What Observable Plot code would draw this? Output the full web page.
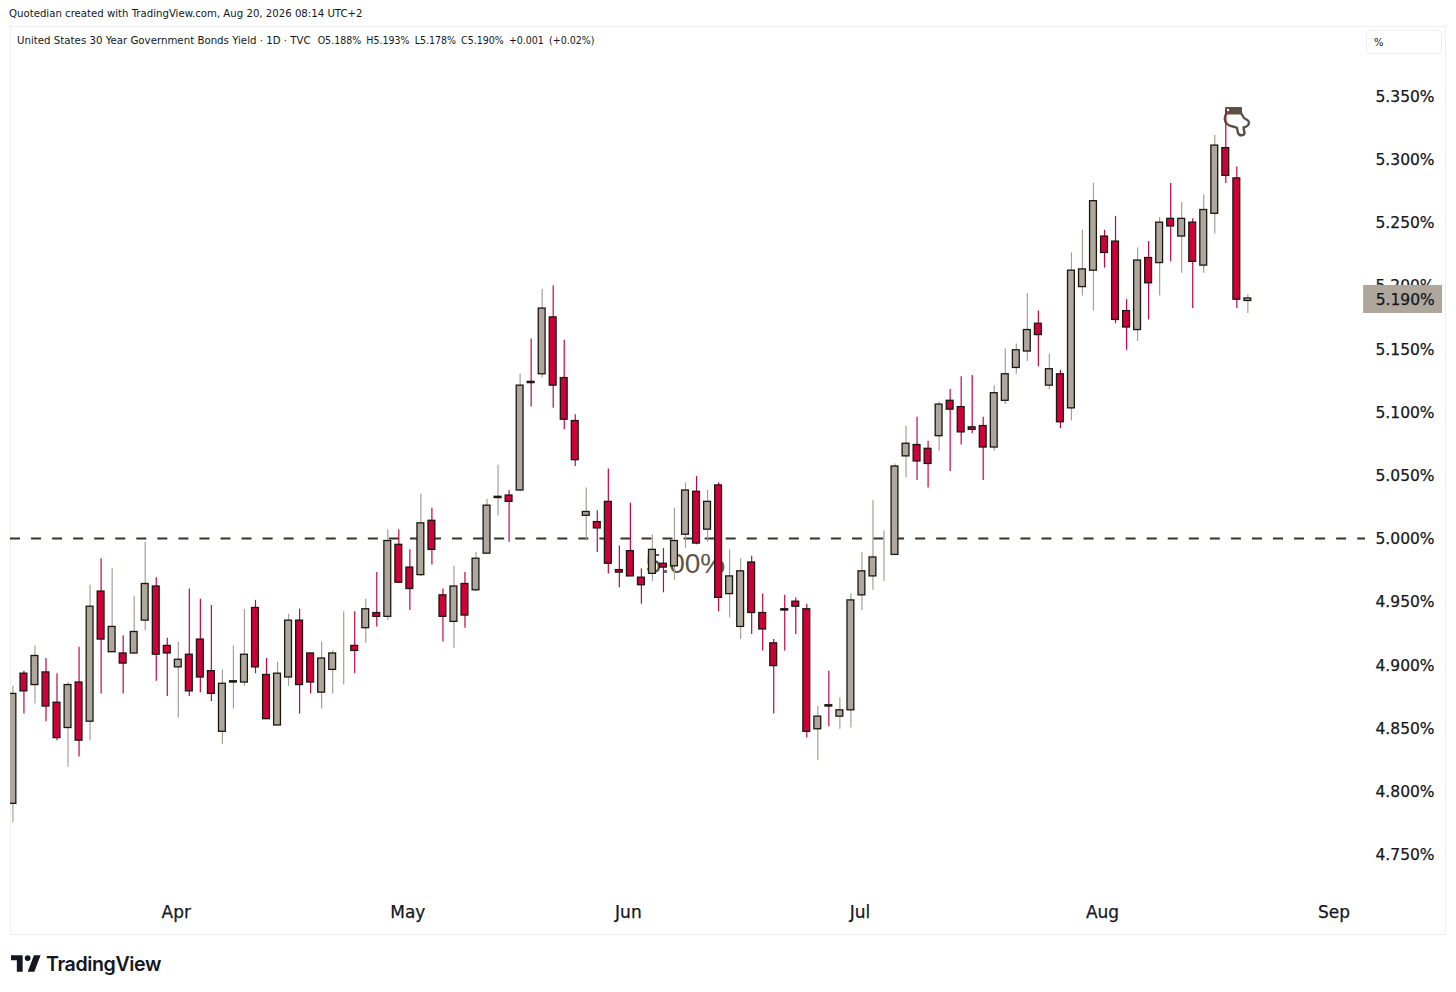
<!DOCTYPE html>
<html><head><meta charset="utf-8">
<script src="https://cdn.jsdelivr.net/npm/d3@7"></script>
<script src="https://cdn.jsdelivr.net/npm/@observablehq/plot@0.6"></script>
<style>
html,body{margin:0;padding:0;background:#fff;width:1456px;height:992px;overflow:hidden}
#wrap{position:relative;width:1456px;height:992px}
#chart{position:absolute;left:0;top:0}
.abs{position:absolute;white-space:pre;color:#131722}
#credit{left:9px;top:7px;font:11.3px "DejaVu Sans Condensed","DejaVu Sans",sans-serif}
#legend{left:17px;top:32.5px;font:11.36px "DejaVu Sans Condensed","DejaVu Sans",sans-serif}
#legend span{font-size:10.5px;margin-left:5.2px}
#legend span:first-child{margin-left:7px}
#pane{left:10px;top:26px;width:1436px;height:909px;border:1px solid #eeeeee;box-sizing:border-box}
#unit{left:1366px;top:30px;width:76px;height:24px;border:1px solid #eeeeee;border-radius:4px;box-sizing:border-box;font:10px "DejaVu Sans",sans-serif;padding:6px 0 0 7px}
#tv{left:46px;top:952px;font:600 19.6px Inter,sans-serif;letter-spacing:-0.4px}
#chart g[aria-label="y-axis tick label"] text,#chart g[aria-label="x-axis tick label"] text{stroke:#131722;stroke-width:.25px}
</style></head><body>
<div id="wrap">
<div class="abs" id="pane"></div>
<div class="abs" id="credit">Quotedian created with TradingView.com, Aug 20, 2026 08:14 UTC+2</div>
<div class="abs" id="legend">United States 30 Year Government Bonds Yield · 1D · TVC<span>O5.188%</span><span>H5.193%</span><span>L5.178%</span><span>C5.190%</span><span>+0.001</span><span>(+0.02%)</span></div>
<div class="abs" id="unit">%</div>
<svg class="abs" style="left:1220px;top:100px" width="35" height="40" viewBox="0 0 35 40" aria-label="pointing hand">
  <path d="M7 13C4 16 4 21 7 24C10 27 14 26 17 28L18 33C19 36 24 36 24.5 33L23.5 27.5C26 27 29 25 29 22.5C29 20 25 19 24 18L21 13" fill="#fff" stroke="#5d5045" stroke-width="2.4" stroke-linejoin="round"/>
  <rect x="5" y="7" width="17" height="7.5" rx="1" fill="#5d5045"/><circle cx="8" cy="10" r="1.2" fill="#fff"/>
</svg>
<div id="chart"></div>
<svg class="abs" style="left:11px;top:955px" width="30" height="17" viewBox="0 0 36 20"><path d="M14 0H0v6h7v14h7V0Z" fill="#131722"/><circle cx="20" cy="3.5" r="3.5" fill="#131722"/><path d="M28 20h-8L27.5 0h8L28 20Z" fill="#131722"/></svg>
<div class="abs" id="tv">TradingView</div>
</div>
<script>
const opens=[4.790,4.893,4.884,4.894,4.870,4.850,4.886,4.855,4.958,4.910,4.909,4.909,4.935,4.962,4.915,4.898,4.908,4.920,4.895,4.847,4.886,4.886,4.945,4.892,4.852,4.890,4.935,4.909,4.878,4.896,4.913,4.915,4.929,4.941,4.938,4.995,4.977,4.971,5.014,4.955,4.934,4.964,4.959,4.988,5.032,5.034,5.038,5.124,5.130,5.175,5.127,5.093,5.018,5.013,5.029,4.975,4.990,4.969,4.972,4.980,4.978,5.003,5.037,5.007,5.042,4.956,4.930,4.981,4.941,4.917,4.944,4.950,4.944,4.849,4.868,4.859,4.864,4.955,4.970,4.986,4.987,5.065,5.074,5.071,5.081,5.109,5.104,5.088,5.089,5.072,5.109,5.135,5.148,5.170,5.121,5.130,5.103,5.199,5.212,5.239,5.235,5.180,5.165,5.222,5.218,5.253,5.239,5.250,5.216,5.257,5.309,5.285,5.188];
const closes=[4.877,4.879,4.907,4.867,4.842,4.884,4.840,4.946,4.920,4.930,4.901,4.926,4.964,4.908,4.909,4.904,4.879,4.890,4.877,4.885,4.887,4.908,4.898,4.857,4.893,4.935,4.884,4.886,4.905,4.909,4.913,4.911,4.944,4.938,4.998,4.965,4.960,5.012,4.991,4.938,4.962,4.939,4.984,5.026,5.033,5.029,5.121,5.123,5.182,5.121,5.094,5.062,5.021,5.008,4.980,4.973,4.970,4.963,4.991,4.977,4.998,5.038,4.996,5.029,4.953,4.970,4.974,4.941,4.928,4.899,4.943,4.946,4.847,4.859,4.867,4.864,4.951,4.974,4.985,4.986,5.057,5.075,5.061,5.059,5.106,5.102,5.084,5.086,5.072,5.115,5.130,5.149,5.165,5.161,5.134,5.092,5.212,5.213,5.267,5.226,5.173,5.167,5.220,5.202,5.250,5.247,5.253,5.219,5.260,5.311,5.287,5.189,5.190];
const highs=[4.883,4.895,4.915,4.905,4.893,4.886,4.914,4.963,4.984,4.976,4.923,4.954,4.997,4.969,4.921,4.918,4.960,4.952,4.947,4.896,4.915,4.944,4.951,4.905,4.902,4.940,4.944,4.909,4.918,4.911,4.942,4.942,4.952,4.973,5.007,5.007,4.991,5.035,5.024,4.960,4.978,4.973,4.989,5.031,5.058,5.038,5.130,5.158,5.197,5.200,5.157,5.098,5.040,5.022,5.055,4.994,5.028,4.976,5.003,4.992,5.024,5.044,5.049,5.038,5.044,4.991,4.984,4.986,4.956,4.920,4.955,4.953,4.948,4.867,4.895,4.874,4.956,4.989,5.030,5.006,5.059,5.089,5.096,5.077,5.108,5.118,5.128,5.129,5.096,5.121,5.150,5.154,5.194,5.180,5.146,5.133,5.226,5.244,5.281,5.244,5.255,5.189,5.230,5.235,5.254,5.281,5.266,5.253,5.272,5.319,5.339,5.294,5.193];
const lows=[4.775,4.861,4.869,4.855,4.840,4.819,4.827,4.840,4.877,4.910,4.877,4.908,4.927,4.887,4.875,4.858,4.875,4.878,4.871,4.837,4.865,4.883,4.893,4.857,4.852,4.883,4.861,4.877,4.865,4.877,4.884,4.893,4.917,4.930,4.935,4.965,4.943,4.970,4.979,4.918,4.913,4.929,4.958,4.988,5.018,4.997,5.037,5.104,5.127,5.103,5.086,5.057,4.998,4.989,4.972,4.961,4.970,4.948,4.966,4.957,4.967,4.992,4.995,4.997,4.942,4.937,4.920,4.924,4.911,4.861,4.911,4.924,4.842,4.824,4.851,4.849,4.850,4.943,4.959,4.966,4.987,5.048,5.046,5.040,5.069,5.053,5.074,5.083,5.046,5.069,5.106,5.130,5.140,5.136,5.118,5.087,5.093,5.192,5.180,5.214,5.170,5.149,5.156,5.173,5.192,5.219,5.210,5.182,5.210,5.241,5.281,5.182,5.178];
const monthIndex=[15,36,56,77,99,120];
const monthLabels=["Apr","May","Jun","Jul","Aug","Sep"];
const priceTicks=[4.75,4.8,4.85,4.9,4.95,5.0,5.05,5.1,5.15,5.2,5.25,5.3,5.35];
const levelValue=5.0;
const lastClose=5.19;

const bars=opens.map((o,i)=>({i,o,c:closes[i],h:highs[i],l:lows[i],up:closes[i]>=o}));
const TAN="#afa79b",RED="#cf0038",WTAN="#a89f92",WRED="#c00845",INK="#1b1712";

const chart=Plot.plot({
  width:1456,height:992,
  marginLeft:10,marginRight:91,marginTop:26,marginBottom:99,
  style:{background:"transparent",overflow:"visible"},
  x:{domain:[-0.218,122.67],axis:null},
  y:{domain:[4.71901,5.40526],axis:null},
  marks:[
    Plot.axisX({ticks:monthIndex,tickFormat:d=>monthLabels[monthIndex.indexOf(d)],anchor:"bottom",tickSize:0,tickPadding:12,dx:-2,fontSize:17,fontFamily:"'DejaVu Sans',sans-serif",color:"#131722",label:null}),
    Plot.axisY({ticks:priceTicks,tickFormat:d=>d.toFixed(3)+"%",anchor:"right",tickSize:0,tickPadding:10,dy:0.7,fontSize:15.5,fontFamily:"'DejaVu Sans',sans-serif",color:"#131722",label:null,textAnchor:"start"}),
    Plot.ruleY([levelValue],{stroke:"#38322b",strokeWidth:2,strokeDasharray:"10,11.05"}),
    Plot.text(["5.00%"],{x:[61],y:[4.98],text:d=>d,fontSize:28,fontFamily:"'Liberation Sans',sans-serif",fill:"#5d5549"}),
    Plot.ruleX(bars,{x:"i",y1:"l",y2:"h",stroke:d=>d.up?WTAN:WRED,strokeWidth:1.2,clip:"frame"}),
    Plot.rect(bars,{x1:d=>d.i-0.31,x2:d=>d.i+0.31,y1:d=>Math.min(d.o,d.c),y2:d=>Math.max(d.o,d.c),fill:d=>d.up?TAN:RED,stroke:INK,strokeWidth:1.3,clip:"frame"}),
    Plot.rect([lastClose],{x1:[122.5],x2:[129.66],y1:[5.1781],y2:[5.2003],fill:TAN}),
    Plot.text([lastClose],{x:[122.5],y:[lastClose],dx:12,dy:2,textAnchor:"start",text:d=>d.toFixed(3)+"%",fontSize:15.5,fontFamily:"'DejaVu Sans',sans-serif",fill:"#131722",stroke:"#131722",strokeWidth:0.25})
  ]
});
document.getElementById("chart").appendChild(chart);
</script>
</body></html>
